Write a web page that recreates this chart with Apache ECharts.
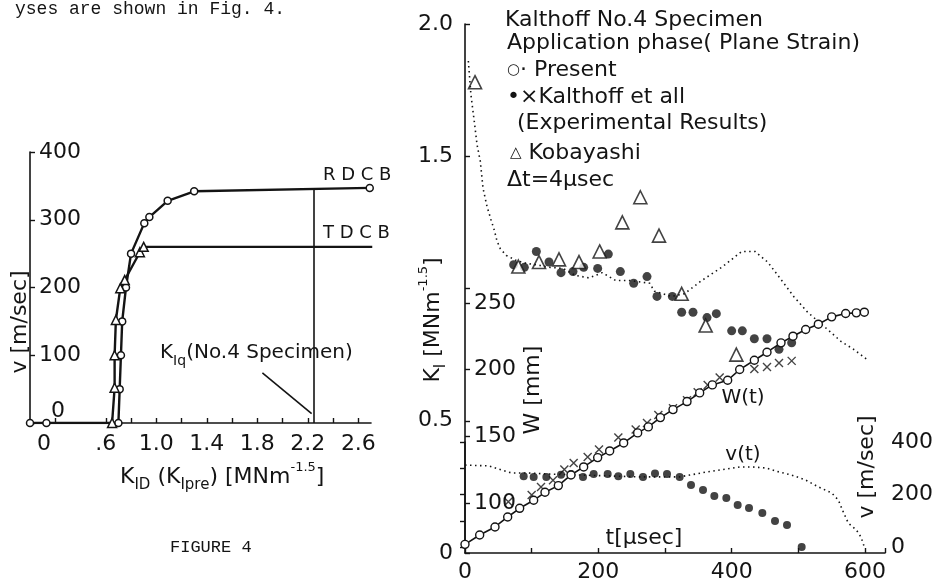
<!DOCTYPE html>
<html>
<head>
<meta charset="utf-8">
<style>
  html, body { margin: 0; padding: 0; background: #fff; }
  #chart { width: 938px; height: 584px; }
</style>
<script src="https://cdn.jsdelivr.net/npm/echarts@6/dist/echarts.min.js"></script>
</head>
<body>
<div id="chart"></div>
<script>
// ---- left panel: crack speed v vs K_ID ----
var rdcbK = [0, 0.13, 0.70, 0.71, 0.72, 0.73, 0.76, 0.80, 0.905, 0.945, 1.09, 1.30, 2.69]
var rdcbV = [0, 0, 0, 50, 100, 150, 200, 250, 295, 304, 328, 342, 347]
var tdcbK = [0.65, 0.67, 0.67, 0.68, 0.715, 0.75, 0.87, 0.90, 2.71]
var tdcbV = [0, 52, 100, 152, 199, 211, 252, 260, 260]
var kIq = 2.25
var leftXTicks = [0, 0.6, 1.0, 1.4, 1.8, 2.2, 2.6]

// ---- right panel: Kalthoff No.4 specimen ----
// K_I (MNm^-1.5) vs t (usec)
var presentKT = [5, 9, 14, 18, 23, 27, 33, 39, 44, 48, 53, 62, 77, 92, 113, 128, 147, 165, 186, 206, 226, 247, 277, 284, 310, 329, 355, 385, 415, 435, 454, 474, 493, 514, 544, 564, 583, 604]
var presentK = [1.86, 1.73, 1.63, 1.545, 1.48, 1.38, 1.31, 1.26, 1.22, 1.18, 1.15, 1.125, 1.106, 1.095, 1.087, 1.08, 1.076, 1.05, 1.04, 1.06, 1.03, 1.03, 1.02, 0.99, 0.97, 0.98, 1.03, 1.08, 1.14, 1.14, 1.10, 1.034, 0.97, 0.91, 0.845, 0.80, 0.77, 0.73]
var kalthoffKT = [73, 89, 107, 126, 144, 162, 178, 199, 215, 233, 253, 273, 288, 311, 325, 342, 363, 377, 400, 416, 434, 453, 471, 490]
var kalthoffK = [1.09, 1.08, 1.14, 1.10, 1.06, 1.064, 1.08, 1.076, 1.13, 1.064, 1.02, 1.045, 0.97, 0.97, 0.91, 0.91, 0.89, 0.905, 0.84, 0.84, 0.81, 0.81, 0.77, 0.795]
var kobayashiT = [15, 80, 111, 141, 171, 202, 236, 263, 291, 325, 361, 407]
var kobayashiK = [1.78, 1.083, 1.10, 1.11, 1.10, 1.14, 1.25, 1.345, 1.20, 0.98, 0.86, 0.75]
// crack length W (mm) vs t
var presentWT = [0, 22, 45, 64, 82, 103, 120, 140, 159, 178, 199, 217, 238, 259, 275, 293, 312, 333, 352, 371, 394, 412, 434, 453, 474, 492, 511, 530, 550, 571, 587, 599]
var presentW = [69, 76, 82, 89.5, 96, 102, 108, 113, 121, 127, 134, 139, 145, 152.5, 157, 164, 170, 176, 182.5, 188.5, 192, 200, 207, 213, 220, 225, 230, 234, 239.5, 242, 242.5, 243]
var kalthoffWT = [65, 100, 114, 132, 149, 163, 184, 201, 230, 256, 273, 290, 312, 333, 349, 364, 382, 434, 453, 471, 490]
var kalthoffW = [101, 106, 112, 117, 125, 130, 134.5, 140, 149, 155, 160, 166, 171, 177, 183, 188.5, 194, 200.5, 202, 205, 206.5]
// crack speed v (m/sec) vs t
var presentVT = [0, 36, 55, 70, 95, 125, 263, 322, 337, 363, 392, 412, 431, 452, 471, 490, 511, 530, 550, 560, 568, 575, 587, 594, 599]
var presentV = [312, 309, 293, 282, 282, 278, 267, 267, 274, 286, 297, 305, 305, 301, 286, 274, 255, 229, 206, 179, 130, 91, 65, 38, 0]
var kalthoffVT = [88, 103, 122, 144, 159, 177, 193, 214, 230, 248, 267, 285, 303, 322, 339, 357, 374, 392, 409, 426, 446, 465, 483, 505]
var kalthoffV = [270, 267, 267, 275, 278, 267, 278, 278, 270, 278, 267, 280, 278, 267, 236, 217, 194, 187, 160, 149, 130, 99, 84, 0]

var kLabels = { 0: '0', 0.5: '0.5', 1.5: '1.5', 2: '2.0' }
var wTicks = [100, 150, 200, 250]

function zip(xs, ys) {
  return xs.map(function (x, i) { return [x, ys[i]] })
}

var ink = '#141414'
var font = "'DejaVu Sans', sans-serif"
var crossPath = 'path://M0,0L10,10M10,0L0,10'

var chart = echarts.init(document.getElementById('chart'), null, { renderer: 'canvas' })

function axisBase() {
  return {
    type: 'value',
    splitLine: { show: false },
    axisLine: { show: true, lineStyle: { color: ink, width: 1.6 } },
    axisTick: { show: true, inside: true, length: 5, lineStyle: { color: ink, width: 1.4 } },
    axisLabel: { color: ink, fontFamily: font, fontSize: 22 }
  }
}

function merge(a, b) {
  var out = {}
  Object.keys(a).forEach(function (k) { out[k] = a[k] })
  Object.keys(b).forEach(function (k) {
    if (out[k] && typeof out[k] === 'object' && !Array.isArray(out[k]) && typeof b[k] === 'object') {
      out[k] = merge(out[k], b[k])
    } else {
      out[k] = b[k]
    }
  })
  return out
}

function label(text, x, y, size, extra) {
  var el = {
    type: 'text', x: x, y: y, silent: true,
    style: {
      text: text, fill: ink, fontFamily: font, fontSize: size,
      align: 'left', verticalAlign: 'middle', lineHeight: size + 10,
      rich: {
        sub: { fontSize: Math.round(size * 0.68), fontFamily: font, verticalAlign: 'bottom', lineHeight: size + 10 },
        sup: { fontSize: Math.round(size * 0.6), fontFamily: font, verticalAlign: 'top', lineHeight: size + 10 },
        sm: { fontSize: Math.round(size * 0.7), fontFamily: font }
      }
    }
  }
  if (extra) {
    Object.keys(extra).forEach(function (k) {
      if (k === 'style') Object.keys(extra.style).forEach(function (s) { el.style[s] = extra.style[s] })
      else el[k] = extra[k]
    })
  }
  return el
}

var option = {
  backgroundColor: '#fff',
  animation: false,
  grid: [
    { left: 30, right: 567, top: 152, bottom: 161 },
    { left: 465, right: 53, top: 24, bottom: 31 },
    { left: 465, right: 53, top: 442, bottom: 37 }
  ],
  xAxis: [
    merge(axisBase(), {
      gridIndex: 0, min: 0, max: 2.7,
      axisTick: { customValues: [0.2, 0.6, 0.8, 1.0, 1.2, 1.4, 1.6, 1.8, 2.0, 2.2, 2.4, 2.6] },
      axisLabel: {
        customValues: leftXTicks, margin: 10,
        formatter: function (v) { return v === 0 ? '{z|0}' : (v < 1 ? '.' + Math.round(v * 10) : v.toFixed(1)) },
        rich: { z: { fontFamily: font, fontSize: 22, color: ink, padding: [0, 0, 0, 28] } }
      }
    }),
    merge(axisBase(), {
      gridIndex: 1, min: 0, max: 630, interval: 100,
      axisLabel: { margin: 8, formatter: function (v) { return v % 200 === 0 ? String(v) : '' } }
    }),
    { type: 'value', gridIndex: 2, min: 0, max: 630, show: false }
  ],
  yAxis: [
    merge(axisBase(), {
      gridIndex: 0, min: 0, max: 400, interval: 100,
      axisLabel: {
        inside: true, margin: 9,
        formatter: function (v) { return v === 0 ? '{z|0}' : String(v) },
        rich: { z: { fontFamily: font, fontSize: 22, color: ink, padding: [0, 0, 24, 12] } }
      }
    }),
    merge(axisBase(), {
      gridIndex: 1, position: 'left', min: 0, max: 2, interval: 0.5,
      axisLabel: {
        margin: 12,
        formatter: function (v) { return kLabels[v] !== undefined ? kLabels[v] : '' }
      }
    }),
    merge(axisBase(), {
      gridIndex: 1, position: 'left', min: 62.5, max: 459,
      axisLine: { show: false },
      axisTick: { customValues: wTicks },
      axisLabel: { inside: true, margin: 9, customValues: wTicks }
    }),
    merge(axisBase(), {
      gridIndex: 2, position: 'right', min: 0, max: 400, interval: 100,
      axisLabel: { margin: 6, formatter: function (v) { return v % 200 === 0 ? String(v) : '' } }
    })
  ],
  series: [
    {
      name: 'RDCB', type: 'line', xAxisIndex: 0, yAxisIndex: 0,
      data: zip(rdcbK, rdcbV), showAllSymbol: true,
      symbol: 'circle', symbolSize: 7,
      itemStyle: { color: '#fff', borderColor: ink, borderWidth: 1.5 },
      lineStyle: { color: ink, width: 2.4 },
      markLine: {
        silent: true, symbol: ['none', 'arrow'], symbolSize: [0, 11],
        label: { show: false },
        lineStyle: { color: ink, width: 1.6, type: 'solid' },
        data: [
          [{ coord: [kIq, 0] }, { coord: [kIq, rdcbV[rdcbV.length - 1]] }],
          [{ coord: [1.84, 74] }, { coord: [kIq - 0.02, 14] }]
        ]
      }
    },
    {
      name: 'TDCB', type: 'line', xAxisIndex: 0, yAxisIndex: 0,
      data: zip(tdcbK, tdcbV), showAllSymbol: true,
      symbol: 'triangle', symbolSize: 9,
      itemStyle: { color: '#fff', borderColor: ink, borderWidth: 1.5 },
      lineStyle: { color: ink, width: 2.4 }
    },
    {
      name: 'Present K', type: 'line', xAxisIndex: 1, yAxisIndex: 1,
      data: zip(presentKT, presentK), symbol: 'none',
      lineStyle: { color: ink, width: 1.6, type: [1.5, 3.5] }
    },
    {
      name: 'Kalthoff K', type: 'scatter', xAxisIndex: 1, yAxisIndex: 1,
      data: zip(kalthoffKT, kalthoffK), symbol: 'circle', symbolSize: 9,
      itemStyle: { color: ink }
    },
    {
      name: 'Kobayashi', type: 'scatter', xAxisIndex: 1, yAxisIndex: 1,
      data: zip(kobayashiT, kobayashiK), symbol: 'triangle', symbolSize: 13,
      itemStyle: { color: '#fff', borderColor: ink, borderWidth: 1.6 }
    },
    {
      name: 'Present W', type: 'line', xAxisIndex: 1, yAxisIndex: 2,
      data: zip(presentWT, presentW), showAllSymbol: true,
      symbol: 'circle', symbolSize: 8,
      itemStyle: { color: '#fff', borderColor: ink, borderWidth: 1.4 },
      lineStyle: { color: ink, width: 1.6 }
    },
    {
      name: 'Kalthoff W', type: 'scatter', xAxisIndex: 1, yAxisIndex: 2,
      data: zip(kalthoffWT, kalthoffW), symbol: crossPath, symbolSize: 8,
      itemStyle: { color: 'transparent', borderColor: ink, borderWidth: 1.4 }
    },
    {
      name: 'Present v', type: 'line', xAxisIndex: 2, yAxisIndex: 3,
      data: zip(presentVT, presentV), symbol: 'none',
      lineStyle: { color: ink, width: 1.6, type: [1.5, 3.5] }
    },
    {
      name: 'Kalthoff v', type: 'scatter', xAxisIndex: 2, yAxisIndex: 3,
      data: zip(kalthoffVT, kalthoffV), symbol: 'circle', symbolSize: 8,
      clip: false, itemStyle: { color: ink }
    }
  ],
  graphic: [
    label('yses are shown in Fig. 4.', 15, 9, 18, { style: { fontFamily: "'Liberation Mono', monospace" } }),
    label('FIGURE 4', 170, 547, 17, { style: { fontFamily: "'Liberation Mono', monospace" } }),
    label('R D C B', 323, 175, 18),
    label('T D C B', 323, 233, 18),
    label('K{sub|Iq}(No.4 Specimen)', 160, 353, 20),
    label('v [m/sec]', 20, 322, 22, { rotation: Math.PI / 2, style: { align: 'center' } }),
    label('K{sub|ID} (K{sub|Ipre}) [MNm{sup|-1.5}]', 120, 477, 22),
    label('Kalthoff No.4 Specimen', 505, 20, 22),
    label('Application phase( Plane Strain)', 507, 43, 22),
    label('{sm|○}· Present', 507, 70, 22),
    label('•×Kalthoff et all', 507, 97, 22),
    label('(Experimental Results)', 517, 123, 22),
    label('{sm|△} Kobayashi', 510, 153, 22),
    label('Δt=4μsec', 507, 180, 22),
    label('K{sub|I} [MNm{sup|-1.5}]', 433, 320, 22, { rotation: Math.PI / 2, style: { align: 'center' } }),
    label('W [mm]', 533, 390, 22, { rotation: Math.PI / 2, style: { align: 'center' } }),
    label('v [m/sec]', 867, 467, 22, { rotation: Math.PI / 2, style: { align: 'center' } }),
    label('t[μsec]', 644, 538, 22, { style: { align: 'center' } }),
    label('v(t)', 743, 455, 20, { style: { align: 'center' } }),
    label('W(t)', 743, 398, 20, { style: { align: 'center' } })
  ]
}

chart.setOption(option)
</script>
</body>
</html>
